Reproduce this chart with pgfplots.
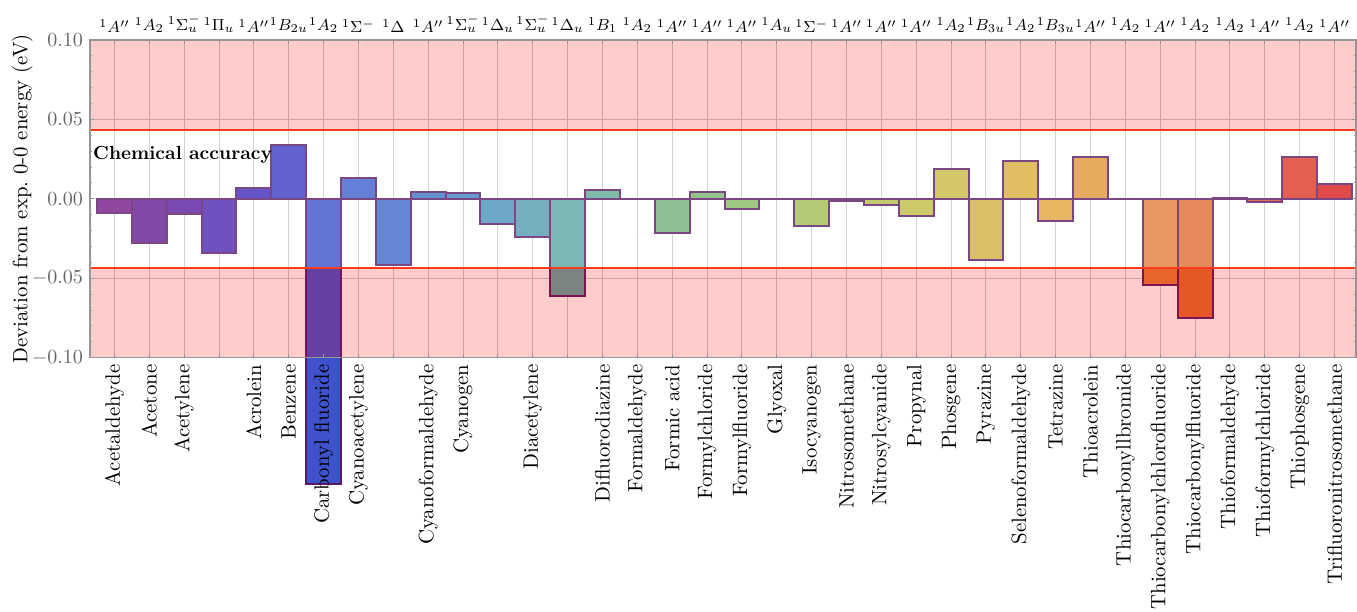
\documentclass[border=0pt]{standalone}
\usepackage{pgfplots}
\pgfplotsset{compat=1.18}
\usetikzlibrary{calc}

\definecolor{c1}{RGB}{117,26,136}
\definecolor{c2}{RGB}{101,26,146}
\definecolor{c3}{RGB}{89,29,161}
\definecolor{c4}{RGB}{76,39,176}
\definecolor{c5}{RGB}{61,42,186}
\definecolor{c6}{RGB}{59,59,199}
\definecolor{c7}{RGB}{62,82,204}
\definecolor{c8}{RGB}{61,96,204}
\definecolor{c9}{RGB}{61,106,199}
\definecolor{c10}{RGB}{61,118,196}
\definecolor{c11}{RGB}{66,130,193}
\definecolor{c12}{RGB}{74,146,186}
\definecolor{c13}{RGB}{80,155,174}
\definecolor{c14}{RGB}{91,166,163}
\definecolor{c15}{RGB}{96,171,149}
\definecolor{c16}{RGB}{105,174,136}
\definecolor{c17}{RGB}{114,176,124}
\definecolor{c18}{RGB}{124,181,111}
\definecolor{c19}{RGB}{136,184,99}
\definecolor{c20}{RGB}{149,186,92}
\definecolor{c21}{RGB}{161,189,86}
\definecolor{c22}{RGB}{171,189,80}
\definecolor{c23}{RGB}{180,189,74}
\definecolor{c24}{RGB}{193,189,71}
\definecolor{c25}{RGB}{201,186,68}
\definecolor{c26}{RGB}{209,176,66}
\definecolor{c27}{RGB}{218,174,61}
\definecolor{c28}{RGB}{224,164,59}
\definecolor{c29}{RGB}{226,151,56}
\definecolor{c30}{RGB}{226,139,55}
\definecolor{c31}{RGB}{226,126,55}
\definecolor{c32}{RGB}{224,109,51}
\definecolor{c33}{RGB}{222,93,46}
\definecolor{c34}{RGB}{221,74,43}
\definecolor{c35}{RGB}{219,56,39}
\definecolor{c36}{RGB}{216,31,31}
\definecolor{edge}{RGB}{90,25,100}
\definecolor{axisgray}{RGB}{150,150,150}
\definecolor{tickgray}{RGB}{100,100,100}
\definecolor{gridgray}{RGB}{200,200,200}
\definecolor{linered}{RGB}{250,60,30}

\newcommand{\onebar}[3]{\addplot[ybar, bar width=1, bar shift=0pt, fill=#2, draw=edge, line width=1pt] coordinates {(#1,#3)};}

\pgfplotsset{
  common/.style={scale only axis, width=633pt, height=158.85pt,
    xmin=0.299, xmax=36.615, ymin=-0.1, ymax=0.1, xtick={1,...,36}},
}

\begin{document}
\begin{tikzpicture}
% axis A: grid, bars, overlays, y tick labels
\begin{axis}[
  common,
  name=main,
  clip=false,
  xticklabels={},
  ytick={-0.1,-0.05,0,0.05,0.1},
  scaled y ticks=false,
  yticklabel style={/pgf/number format/fixed, /pgf/number format/fixed zerofill, /pgf/number format/precision=2, text=tickgray, font=\fontsize{10}{12}\selectfont},
  xmajorgrids, ymajorgrids,
  major grid style={gridgray, line width=0.5pt},
  tick style={draw=none},
  axis line style={draw=none},
]
\onebar{1}{c1}{-0.0090}
\onebar{2}{c2}{-0.0280}
\onebar{3}{c3}{-0.0097}
\onebar{4}{c4}{-0.0343}
\onebar{5}{c5}{0.0071}
\onebar{6}{c6}{0.0341}
\onebar{7}{c7}{-0.1794}
\onebar{8}{c8}{0.0130}
\onebar{9}{c9}{-0.0418}
\onebar{10}{c10}{0.0040}
\onebar{11}{c11}{0.0038}
\onebar{12}{c12}{-0.0161}
\onebar{13}{c13}{-0.0240}
\onebar{14}{c14}{-0.0610}
\onebar{15}{c15}{0.0056}
\onebar{16}{c16}{0.0000}
\onebar{17}{c17}{-0.0217}
\onebar{18}{c18}{0.0046}
\onebar{19}{c19}{-0.0061}
\onebar{20}{c20}{0.0000}
\onebar{21}{c21}{-0.0168}
\onebar{22}{c22}{-0.0011}
\onebar{23}{c23}{-0.0039}
\onebar{24}{c24}{-0.0107}
\onebar{25}{c25}{0.0188}
\onebar{26}{c26}{-0.0382}
\onebar{27}{c27}{0.0238}
\onebar{28}{c28}{-0.0141}
\onebar{29}{c29}{0.0261}
\onebar{30}{c30}{0.0000}
\onebar{31}{c31}{-0.0540}
\onebar{32}{c32}{-0.0748}
\onebar{33}{c33}{0.0008}
\onebar{34}{c34}{-0.0020}
\onebar{35}{c35}{0.0261}
\onebar{36}{c36}{0.0091}
% overlays
\fill[white, fill opacity=0.2] (axis cs:0.299,-0.0434) rectangle (axis cs:36.615,0.0434);
\fill[red, fill opacity=0.2] (axis cs:0.299,0.0434) rectangle (axis cs:36.615,0.1);
\fill[red, fill opacity=0.2] (axis cs:0.299,-0.1) rectangle (axis cs:36.615,-0.0434);
\draw[linered, line width=0.8pt] (axis cs:0.299,0.0434) -- (axis cs:36.615,0.0434);
\draw[linered, line width=0.8pt] (axis cs:0.299,-0.0434) -- (axis cs:36.615,-0.0434);
\node[anchor=west, font=\bfseries\fontsize{9.5}{11}\selectfont, inner sep=0pt] at (axis cs:0.38,0.0278) {Chemical accuracy};
\node[rotate=90, anchor=south, inner sep=0pt, font=\fontsize{10.4}{12}\selectfont] at ($(rel axis cs:0,0.5)+(-28.5pt,0pt)$) {Deviation from exp.\ 0-0 energy (eV)};
\end{axis}
% axis B: frame, ticks, bottom labels (on top)
\begin{axis}[
  common,
  xticklabels={Acetaldehyde,Acetone,Acetylene,{},Acrolein,Benzene,Carbonyl fluoride,Cyanoacetylene,{},Cyanoformaldehyde,Cyanogen,{},Diacetylene,{},Difluorodiazine,Formaldehyde,Formic acid,Formylchloride,Formylfluoride,Glyoxal,Isocyanogen,Nitrosomethane,Nitrosylcyanide,Propynal,Phosgene,Pyrazine,Selenoformaldehyde,Tetrazine,Thioacrolein,Thiocarbonyllbromide,Thiocarbonylchlorofluoride,Thiocarbonylfluoride,Thioformaldehyde,Thioformylchloride,Thiophosgene,Trifluoronitrosomethane},
  xticklabel style={rotate=90, anchor=east, font=\fontsize{10.4}{12}\selectfont, text=black},
  ytick={-0.1,-0.05,0,0.05,0.1},
  yticklabels={{},{},{},{},{}},
  minor y tick num=4,
  tick align=inside,
  major tick length=2pt, minor tick length=1.2pt,
  tick style={axisgray, line width=0.5pt},
  axis line style={axisgray, line width=0.6pt},
]
\end{axis}
% axis C: top labels
\begin{axis}[
  common,
  xticklabel pos=upper,
  xticklabels={{$^1A''$},{$^1A_2$},{$^1\Sigma_u^-$},{$^1\Pi_u$},{$^1A''$},{$^1B_{2u}$},{$^1A_2$},{$^1\Sigma^-$},{$^1\Delta$},{$^1A''$},{$^1\Sigma_u^-$},{$^1\Delta_u$},{$^1\Sigma_u^-$},{$^1\Delta_u$},{$^1B_1$},{$^1A_2$},{$^1A''$},{$^1A''$},{$^1A''$},{$^1A_u$},{$^1\Sigma^-$},{$^1A''$},{$^1A''$},{$^1A''$},{$^1A_2$},{$^1B_{3u}$},{$^1A_2$},{$^1B_{3u}$},{$^1A''$},{$^1A_2$},{$^1A''$},{$^1A_2$},{$^1A_2$},{$^1A''$},{$^1A_2$},{$^1A''$}},
  xticklabel style={font=\fontsize{8.3}{10}\selectfont, text=black},
  ytick=\empty,
  tick style={draw=none},
  axis line style={draw=none},
]
\end{axis}
\pgfresetboundingbox
\path[use as bounding box] ($(main.south west)+(-45pt,-127.15pt)$) rectangle ($(main.north east)+(0.5pt,20pt)$);
\end{tikzpicture}
\end{document}
